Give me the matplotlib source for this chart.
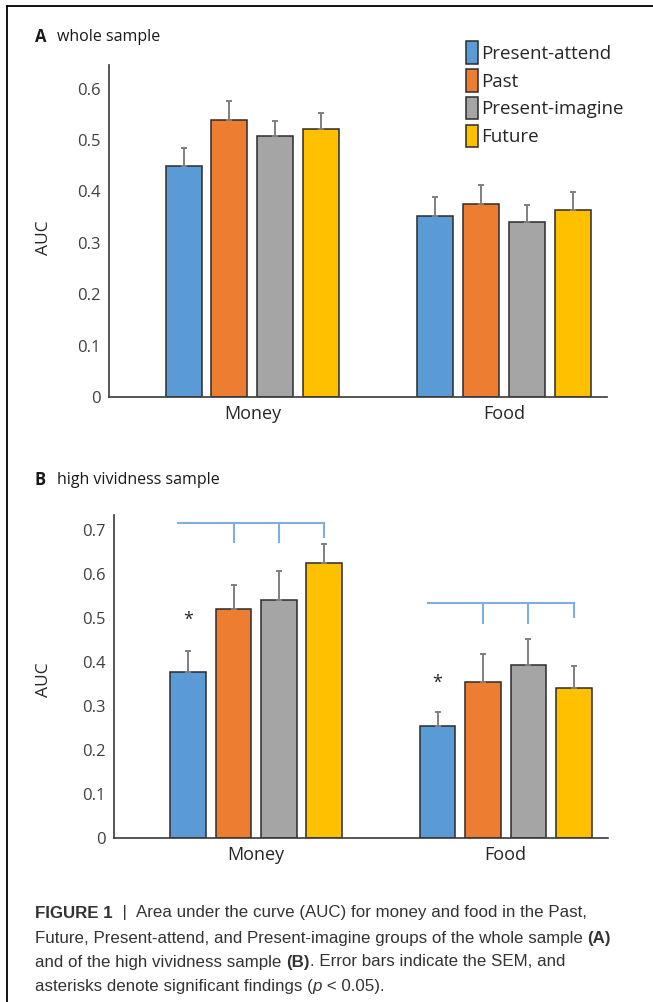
import numpy as np
import matplotlib
matplotlib.use("Agg")
import matplotlib.pyplot as plt
from matplotlib.lines import Line2D

# data (AUC, upper SEM)
groups = ["Money", "Food"]
conditions = ["Present-attend", "Past", "Present-imagine", "Future"]
colors = ["#5b9bd5", "#ed7d31", "#a5a5a5", "#ffc000"]

money_whole = [0.450, 0.539, 0.507, 0.522]
money_whole_sem = [0.034, 0.037, 0.030, 0.031]
food_whole = [0.352, 0.375, 0.340, 0.364]
food_whole_sem = [0.037, 0.037, 0.033, 0.035]

money_vivid = [0.378, 0.520, 0.541, 0.625]
money_vivid_sem = [0.048, 0.056, 0.066, 0.045]
food_vivid = [0.254, 0.355, 0.393, 0.340]
food_vivid_sem = [0.032, 0.063, 0.059, 0.050]

# significance brackets in panel B (line height, tick bottom) and asterisk heights
bracket_y = [0.716, 0.534]
bracket_tick = [0.673, 0.490]
star_y = [0.496, 0.352]

plt.rcParams['font.family'] = ['Open Sans', 'DejaVu Sans']

fig = plt.figure(figsize=(6.53, 10.02), dpi=100)

offsets = (np.arange(4) - 1.5) * 0.182
width = 0.143


def bar_panel(ax, means, sems, ylim, yticks):
    for i, cond in enumerate(conditions):
        vals = [means[0][i], means[1][i]]
        errs = [sems[0][i], sems[1][i]]
        ax.bar(np.arange(2) + offsets[i], vals, width, color=colors[i],
               edgecolor="#2b2b2b", linewidth=1.1, label=cond,
               yerr=[[0, 0], errs], ecolor="#7f7f7f",
               error_kw=dict(elinewidth=1.4, capsize=2.5, capthick=1.4), zorder=2)
    ax.set_xlim(-0.57, 1.41)
    ax.set_ylim(*ylim)
    ax.set_yticks(yticks)
    ax.set_yticklabels(["0"] + ["%.1f" % t for t in yticks[1:]])
    ax.set_xticks([0, 1])
    ax.set_xticklabels(groups, fontsize=13, color="#262626")
    ax.tick_params(axis="x", length=0, pad=6)
    ax.tick_params(axis="y", length=0, pad=6, labelsize=12, labelcolor="#404040")
    for s in ["top", "right"]:
        ax.spines[s].set_visible(False)
    ax.spines["left"].set_color("#3a3a3a")
    ax.spines["bottom"].set_color("#3a3a3a")
    ax.spines["left"].set_linewidth(1.2)
    ax.spines["bottom"].set_linewidth(1.2)
    ax.set_ylabel("AUC", fontsize=12.5, color="#262626")


# Panel A
axA = fig.add_axes([0.1669, 0.6038, 0.7627, 0.3313])
bar_panel(axA, [money_whole, food_whole], [money_whole_sem, food_whole_sem],
          (0, 0.646), [0, 0.1, 0.2, 0.3, 0.4, 0.5, 0.6])
axA.yaxis.set_label_coords(-0.115, 0.48)

# Panel B
axB = fig.add_axes([0.1746, 0.1640, 0.7565, 0.3220])
bar_panel(axB, [money_vivid, food_vivid], [money_vivid_sem, food_vivid_sem],
          (0, 0.735), [0, 0.1, 0.2, 0.3, 0.4, 0.5, 0.6, 0.7])
axB.yaxis.set_label_coords(-0.125, 0.49)

for g in range(2):
    x0 = g + offsets[0] - 0.04
    x1 = g + offsets[3]
    axB.plot([x0, x1], [bracket_y[g], bracket_y[g]], color="#7fb0dc", lw=1.5, zorder=3)
    for i in (1, 2, 3):
        bottom = bracket_tick[g] + (0.012 if i == 3 else 0)
        axB.plot([g + offsets[i]] * 2, [bracket_y[g], bottom], color="#7fb0dc", lw=1.5, zorder=3)
    axB.text(g + offsets[0], star_y[g], "*", ha="center", va="center", fontsize=13, color="#262626")

# panel titles
fig.text(35 / 653, 1 - 37 / 1002, "A", fontsize=12, fontweight="bold", va="center", color="#1a1a1a")
fig.text(57 / 653, 1 - 37 / 1002, "whole sample", fontsize=11.5, va="center", color="#1a1a1a")
fig.text(35 / 653, 1 - 480 / 1002, "B", fontsize=12, fontweight="bold", va="center", color="#1a1a1a")
fig.text(57 / 653, 1 - 480 / 1002, "high vividness sample", fontsize=11.5, va="center", color="#1a1a1a")

# legend
handles, labels = axA.get_legend_handles_labels()
fig.legend(handles, labels, loc="upper left", bbox_to_anchor=(457 / 653, 1 - 32 / 1002),
           frameon=False, fontsize=13.5, handlelength=0.6, handleheight=1.45,
           handletextpad=0.2, labelspacing=0.3, borderpad=0, labelcolor="#262626")

# frame lines (left and top)
fig.add_artist(Line2D([7 / 653, 7 / 653], [0, 1 - 6 / 1002], color="black", lw=1.3))
fig.add_artist(Line2D([7 / 653, 1], [1 - 6 / 1002, 1 - 6 / 1002], color="black", lw=1.3))

# caption with mixed weights
cap_font = ['Liberation Sans Narrow', 'Liberation Sans', 'DejaVu Sans']
caption = [
    [("FIGURE 1", "bold", "normal"), ("  |  ", "normal", "normal"),
     ("Area under the curve (AUC) for money and food in the Past,", "normal", "normal")],
    [("Future, Present-attend, and Present-imagine groups of the whole sample ", "normal", "normal"),
     ("(A)", "bold", "normal")],
    [("and of the high vividness sample ", "normal", "normal"), ("(B)", "bold", "normal"),
     (". Error bars indicate the SEM, and", "normal", "normal")],
    [("asterisks denote significant findings (", "normal", "normal"), ("p", "normal", "italic"),
     (" < 0.05).", "normal", "normal")],
]
line_y = [913, 938, 962, 986]
fig.canvas.draw()
renderer = fig.canvas.get_renderer()
for row, y in zip(caption, line_y):
    x = 35
    for txt, weight, style in row:
        t = fig.text(x / 653, 1 - y / 1002, txt, fontsize=12.2, fontweight=weight, fontstyle=style,
                     family=cap_font, va="center", ha="left", color="#333333")
        bb = t.get_window_extent(renderer)
        x += bb.width

fig.savefig("out.png", dpi=100)
